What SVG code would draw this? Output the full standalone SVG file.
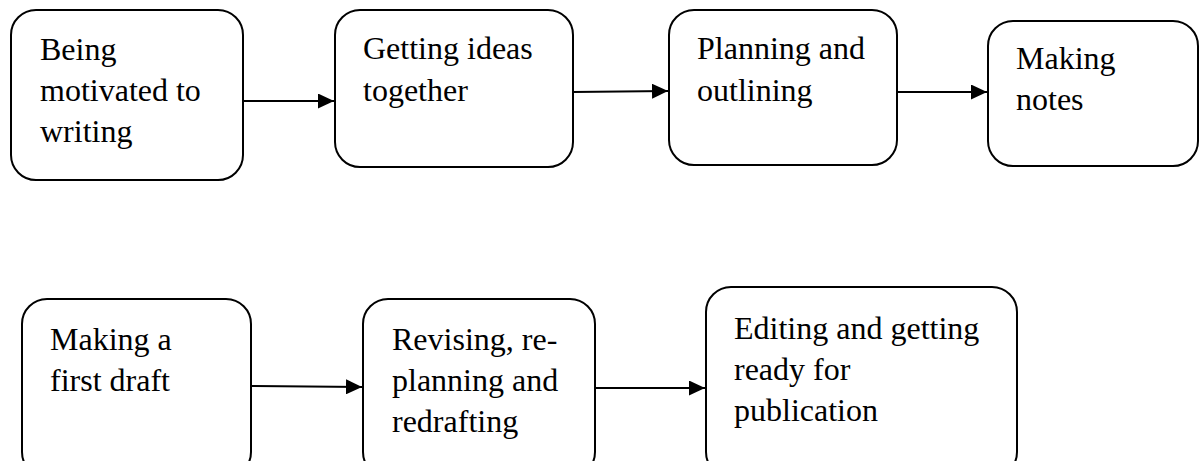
<svg xmlns="http://www.w3.org/2000/svg" width="1201" height="461" viewBox="0 0 1201 461">
  <style>
    .box { fill: #ffffff; stroke: #000000; stroke-width: 2; }
    .lbl { font-family: "Liberation Serif", "Times New Roman", serif; font-size: 32px; fill: #000000; }
    .edge { fill: none; stroke: #000000; stroke-width: 2; }
  </style>
  <defs>
    <marker id="arrow" markerWidth="16" markerHeight="15" refX="16" refY="7.5" orient="auto" markerUnits="userSpaceOnUse">
      <path d="M0,0 L16,7.5 L0,15 Z" fill="#000000"/>
    </marker>
  </defs>
  <rect width="1201" height="461" fill="#ffffff"/>

  <g id="connectors">
    <line class="edge" x1="243" y1="101" x2="334" y2="101" marker-end="url(#arrow)"/>
    <line class="edge" x1="573" y1="92" x2="668" y2="91" marker-end="url(#arrow)"/>
    <line class="edge" x1="897" y1="92" x2="987" y2="92" marker-end="url(#arrow)"/>
    <line class="edge" x1="251" y1="386" x2="362" y2="387" marker-end="url(#arrow)"/>
    <line class="edge" x1="595" y1="388" x2="705" y2="388" marker-end="url(#arrow)"/>
  </g>

  <g id="node-motivated">
    <rect class="box" x="11" y="10" width="232" height="170" rx="25"/>
    <text class="lbl"><tspan x="40" y="60">Being</tspan><tspan x="40" y="101">motivated to</tspan><tspan x="40" y="142">writing</tspan></text>
  </g>
  <g id="node-ideas">
    <rect class="box" x="335" y="10" width="238" height="157" rx="25"/>
    <text class="lbl"><tspan x="363" y="59">Getting ideas</tspan><tspan x="363" y="101">together</tspan></text>
  </g>
  <g id="node-planning">
    <rect class="box" x="669" y="10" width="228" height="155" rx="25"/>
    <text class="lbl"><tspan x="697" y="59">Planning and</tspan><tspan x="697" y="101">outlining</tspan></text>
  </g>
  <g id="node-notes">
    <rect class="box" x="988" y="21" width="210" height="145" rx="25"/>
    <text class="lbl"><tspan x="1016" y="69">Making</tspan><tspan x="1016" y="110">notes</tspan></text>
  </g>
  <g id="node-draft">
    <rect class="box" x="22" y="299" width="229" height="178" rx="25"/>
    <text class="lbl"><tspan x="50" y="350">Making a</tspan><tspan x="50" y="391">first draft</tspan></text>
  </g>
  <g id="node-revising">
    <rect class="box" x="363" y="299" width="232" height="178" rx="25"/>
    <text class="lbl"><tspan x="392" y="350">Revising, re-</tspan><tspan x="392" y="391">planning and</tspan><tspan x="392" y="432">redrafting</tspan></text>
  </g>
  <g id="node-editing">
    <rect class="box" x="706" y="287" width="311" height="190" rx="25"/>
    <text class="lbl"><tspan x="734" y="339">Editing and getting</tspan><tspan x="734" y="380">ready for</tspan><tspan x="734" y="421">publication</tspan></text>
  </g>
</svg>
